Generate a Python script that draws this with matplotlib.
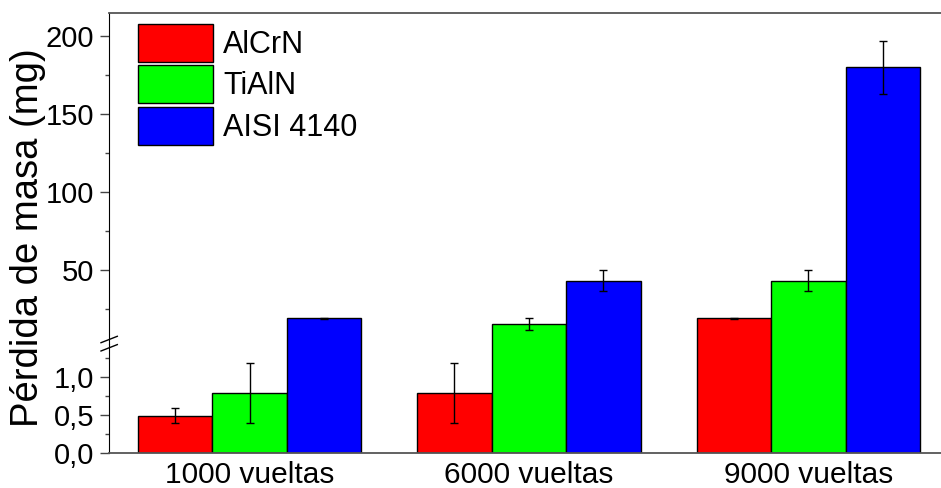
import matplotlib
matplotlib.use('Agg')
import matplotlib.pyplot as plt
from matplotlib.lines import Line2D
import numpy as np

plt.rcParams['font.family'] = ['Liberation Sans', 'DejaVu Sans']

groups = ['1000 vueltas', '6000 vueltas', '9000 vueltas']
series = ['AlCrN', 'TiAlN', 'AISI 4140']
alcrn = [0.49, 0.79, 18.9]
alcrn_err = [0.1, 0.4, 0.3]
tialn = [0.79, 15.2, 43.0]
tialn_err = [0.4, 3.7, 7.0]
aisi = [18.9, 43.0, 180.0]
aisi_err = [0.3, 7.0, 17.0]
colors = ['#FF0000', '#00FF00', '#0000FF']

lo_ticks = [0.0, 0.5, 1.0]
lo_ticklabels = ['0,0', '0,5', '1,0']
lo_minor = [0.25, 0.75, 1.25]
hi_ticks = [50, 100, 150, 200]
hi_minor = [25, 75, 125, 175]

W, H = 941, 488
fig = plt.figure(figsize=(W / 100, H / 100), dpi=100)
left, right = 109 / W, 948 / W
y0, yb, yt = 453, 343.5, 13
ax_lo = fig.add_axes([left, (H - y0) / H, right - left, (y0 - yb) / H])
ax_hi = fig.add_axes([left, (H - yb) / H, right - left, (yb - yt) / H])

x = np.arange(len(groups)) + 1
w = 0.8 / 3
data = [(alcrn, alcrn_err), (tialn, tialn_err), (aisi, aisi_err)]
offs = [-w, 0, w]
containers = []
for ax in (ax_lo, ax_hi):
    for (vals, errs), off, c, lab in zip(data, offs, colors, series):
        bc = ax.bar(x + off, vals, w, yerr=errs, color=c, edgecolor='black',
                    linewidth=1, label=lab,
                    error_kw=dict(ecolor='black', elinewidth=1, capsize=3, capthick=1))
        if ax is ax_hi:
            containers.append(bc)
    ax.set_xlim(0.497, 3.5)
    ax.spines['right'].set_visible(False)
    ax.spines['left'].set_color('black')
    ax.tick_params(axis='y', which='major', direction='out', length=6.5, width=1,
                   color='#444444', labelsize=21, pad=4)
    ax.tick_params(axis='y', which='minor', direction='out', length=3.2, width=1,
                   color='#444444')

ax_lo.set_ylim(0, 1.446)
ax_lo.spines['top'].set_visible(False)
ax_lo.spines['bottom'].set_color('#555555')
ax_lo.spines['bottom'].set_linewidth(1.3)
ax_lo.set_yticks(lo_ticks)
ax_lo.set_yticklabels(lo_ticklabels)
ax_lo.set_yticks(lo_minor, minor=True)
ax_lo.set_xticks(x)
ax_lo.set_xticklabels(groups)
ax_lo.tick_params(axis='x', length=0, labelsize=21.5, pad=6)

ax_hi.set_ylim(2.6, 214.8)
ax_hi.spines['bottom'].set_visible(False)
ax_hi.spines['top'].set_color('#555555')
ax_hi.spines['top'].set_linewidth(1.3)
ax_hi.set_yticks(hi_ticks)
ax_hi.set_yticks(hi_minor, minor=True)
ax_hi.set_xticks([])

# break marks
for (xa, ya, xb, yb2) in [(101, 342.7, 117.3, 336.3), (101, 351, 117.3, 344.6)]:
    fig.add_artist(Line2D([xa / W, xb / W], [(H - ya) / H, (H - yb2) / H],
                          transform=fig.transFigure, color='black', lw=1))

fig.legend(containers, series, loc='upper left',
           bbox_to_anchor=(138 / W, (H - 24) / H), bbox_transform=fig.transFigure,
           frameon=False, fontsize=22, handlelength=2.45, handleheight=1.521,
           labelspacing=0.1245, handletextpad=0.33, borderpad=0, borderaxespad=0)

fig.text(28 / W, (H - 237.5) / H, 'Pérdida de masa (mg)', rotation=90,
         ha='center', va='center', fontsize=27.5)

fig.savefig('out.png', dpi=100)
